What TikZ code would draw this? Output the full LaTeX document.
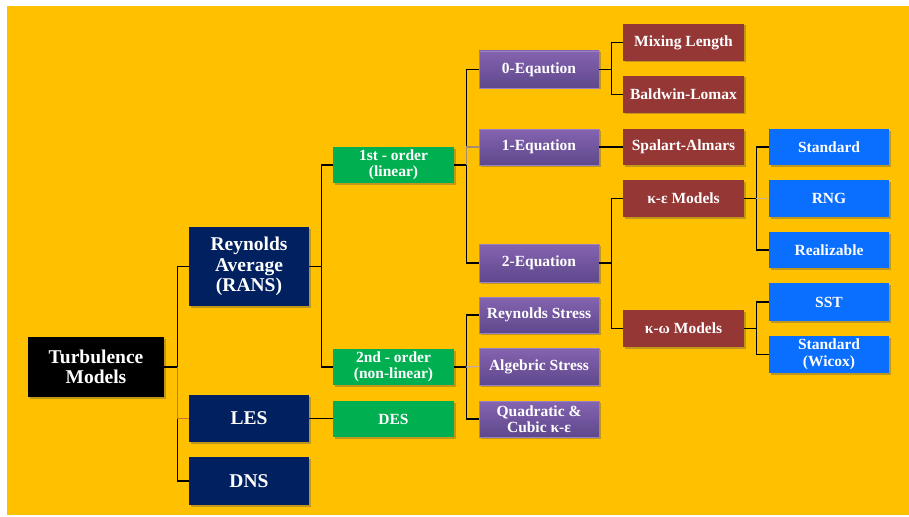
\documentclass[tikz,border=0pt]{standalone}
\usepackage{fontspec}
\setmainfont{Liberation Serif}
\usetikzlibrary{shadows}
\definecolor{bgorange}{HTML}{FFC000}
\definecolor{navyc}{HTML}{002060}
\definecolor{greenc}{HTML}{00B050}
\definecolor{brownc}{HTML}{953735}
\definecolor{bluec}{HTML}{0A6EFF}
\definecolor{purtop}{HTML}{8563B0}
\definecolor{purbot}{HTML}{5E488C}
\definecolor{purline}{HTML}{9C80C4}
\definecolor{lesline}{HTML}{D0703A}
\definecolor{oneline}{HTML}{A88A70}
\definecolor{asline}{HTML}{C8A8A8}
\definecolor{rngline}{HTML}{C8B090}
\tikzset{
  basebox/.style={rectangle, inner sep=1pt, align=center, text=white,
    font=\bfseries\fontsize{15.5}{16.5}\selectfont,
    drop shadow={shadow xshift=1.5pt, shadow yshift=-1.5pt, opacity=0.35, fill=black!70}},
  bigbox/.style={basebox, font=\bfseries\fontsize{19.5}{20.5}\selectfont},
  rootbox/.style={bigbox, fill=black, minimum width=136pt, minimum height=60pt},
  navybox/.style={bigbox, fill=navyc, minimum width=120pt},
  greenbox/.style={basebox, fill=greenc, minimum width=121pt, minimum height=36pt},
  purplebox/.style={basebox, top color=purtop, bottom color=purbot, draw=purline, line width=0.6pt, minimum width=120pt, minimum height=36pt},
  brownbox/.style={basebox, fill=brownc, minimum width=121pt, minimum height=37pt},
  bluebox/.style={basebox, fill=bluec, minimum width=120pt, minimum height=36pt},
  link/.style={draw=black, line width=1.3pt},
}
\begin{document}
\begin{tikzpicture}[x=1pt,y=-1pt]
\useasboundingbox (0,0) rectangle (909,516);
\fill[white] (0,0) rectangle (909,516);
\fill[bgorange] (7,6) rectangle (909,515);

% level 0 / 1
\node[rootbox] (root) at (96,367) {Turbulence\\Models};
\node[navybox, minimum height=79pt] (rans) at (249,266.5) {Reynolds\\Average\\(RANS)};
\node[navybox, minimum height=47pt] (les) at (249,418.5) {LES};
\node[navybox, minimum height=48pt] (dns) at (249,481) {DNS};

% level 2
\node[greenbox] (first) at (393.5,165) {1st - order\\(linear)};
\node[greenbox] (second) at (393.5,367) {2nd - order\\(non-linear)};
\node[greenbox] (des) at (393.5,419) {DES};

% level 3
\node[purplebox, minimum height=37pt] (zero) at (539,69.5) {0-Eqaution};
\node[purplebox] (one) at (539,147) {1-Equation};
\node[purplebox, minimum height=38pt] (two) at (539,263) {2-Equation};
\node[purplebox] (rs) at (539,315) {Reynolds Stress};
\node[purplebox, minimum height=37pt] (as) at (539,366.5) {Algebric Stress};
\node[purplebox] (qc) at (539,419) {Quadratic \&\\Cubic κ-ε};

% level 4
\node[brownbox] (ml) at (683.5,42.5) {Mixing Length};
\node[brownbox] (bl) at (683.5,94.5) {Baldwin-Lomax};
\node[brownbox, minimum height=36pt] (sa) at (683.5,147) {Spalart-Almars};
\node[brownbox] (ke) at (683.5,198.5) {κ-ε Models};
\node[brownbox] (kw) at (683.5,328.5) {κ-ω Models};

% level 5
\node[bluebox] (std) at (829,147) {Standard};
\node[bluebox, minimum height=37pt] (rng) at (829,198.5) {RNG};
\node[bluebox] (real) at (829,250) {Realizable};
\node[bluebox, minimum height=38pt] (sst) at (829,302) {SST};
\node[bluebox, minimum height=37pt] (wil) at (829,354.5) {Standard\\(Wicox)};

% connectors
\path[link] (root.east) -- ++(13,0) |- (rans.west);
\path[link] (root.east) -- ++(13,0) |- (dns.west);
\path[link, draw=lesline] (root.east) ++(13,0) |- (les.west);

\path[link] (rans.east) -- ++(12,0) |- (first.west);
\path[link] (rans.east) -- ++(12,0) |- (second.west);
\path[link] (les.east) -- (les.east -| des.west);

\path[link] (first.east) -- ++(12,0) |- (zero.west);
\path[link] (first.east) -- ++(12,0) |- (two.west);
\path[link, draw=oneline] (first.east) ++(12,0) |- (one.west);

\path[link] (second.east) -- ++(12,0) |- (rs.west);
\path[link] (second.east) -- ++(12,0) |- (qc.west);
\path[link, draw=asline] (second.east) ++(12,0) -- (as.west);

\path[link] (zero.east) -- ++(12,0) |- (ml.west);
\path[link] (zero.east) -- ++(12,0) |- (bl.west);
\path[link] (one.east) -- (one.east -| sa.west);
\path[link] (two.east) -- ++(12,0) |- (ke.west);
\path[link] (two.east) -- ++(12,0) |- (kw.west);

\path[link] (ke.east) -- ++(12,0) |- (std.west);
\path[link] (ke.east) -- ++(12,0) |- (real.west);
\path[link, draw=rngline] (ke.east) ++(12,0) -- (rng.west);

\path[link] (kw.east) -- ++(12,0) |- (sst.west);
\path[link] (kw.east) -- ++(12,0) |- (wil.west);
\end{tikzpicture}
\end{document}
